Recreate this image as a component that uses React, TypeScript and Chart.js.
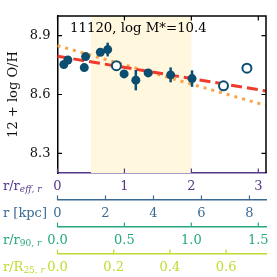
import { useEffect, useRef } from 'react';
import { Chart, registerables } from 'chart.js';
Chart.register(...registerables);

const FONT = '"DejaVu Serif", serif';

// data (radius in units of r_eff,r ; metallicity 12 + log O/H)
const filledX = [0.095, 0.155, 0.4, 0.42, 0.64, 0.75, 0.995, 1.17, 1.355, 1.69, 2.01];
const filledY = [8.753, 8.776, 8.737, 8.793, 8.815, 8.829, 8.705, 8.673, 8.71, 8.7, 8.681];
const filledErr = [0.006, 0.006, 0.006, 0.006, 0.015, 0.035, 0.02, 0.052, 0.006, 0.038, 0.042];
const openX = [0.88, 2.48, 2.83];
const openY = [8.747, 8.644, 8.734];
const redFitX = [0, 3.115];
const redFitY = [8.795, 8.618];
const orangeFitX = [0, 3.115];
const orangeFitY = [8.849, 8.544];
const shadeRange = [0.5, 2.0];

const yTicks = [8.3, 8.6, 8.9];
const reffTicks = [0, 1, 2, 3];
const kpcTicks = [0, 2, 4, 6, 8];
const r90Ticks = [0, 0.5, 1.0, 1.5];
const r25Ticks = [0, 0.2, 0.4, 0.6];
const panelLabel = '11120, log M*=10.4';

const C_PURPLE = '#55378a';
const C_BLUE = '#3b6a93';
const C_GREEN = '#27a882';
const C_YELLOW = '#c2da30';
const C_POINT = '#0c4e70';

type Run = { t: string; sub?: boolean; it?: boolean };
const axisNames: { id: string; color: string; runs: Run[] }[] = [
  { id: 'x', color: C_PURPLE, runs: [{ t: 'r/r' }, { t: 'eff, r', sub: true, it: true }] },
  { id: 'xKpc', color: C_BLUE, runs: [{ t: 'r [kpc]' }] },
  { id: 'xR90', color: C_GREEN, runs: [{ t: 'r/r' }, { t: '90, ', sub: true }, { t: 'r', sub: true, it: true }] },
  { id: 'xR25', color: C_YELLOW, runs: [{ t: 'r/R' }, { t: '25, ', sub: true }, { t: 'r', sub: true, it: true }] },
];

const decor = {
  id: 'decor',
  beforeDatasetsDraw(chart: any) {
    const { ctx, chartArea, scales } = chart;
    const x = scales.x;
    const x0 = x.getPixelForValue(shadeRange[0]);
    const x1 = x.getPixelForValue(shadeRange[1]);
    ctx.save();
    ctx.fillStyle = '#fff7de';
    ctx.fillRect(x0, chartArea.top, x1 - x0, chartArea.bottom - chartArea.top);
    ctx.restore();
  },
  afterDatasetsDraw(chart: any) {
    const { ctx, scales } = chart;
    const x = scales.x, y = scales.y;
    ctx.save();
    ctx.strokeStyle = C_POINT;
    ctx.lineWidth = 2.5;
    filledX.forEach((xv, i) => {
      const px = x.getPixelForValue(xv);
      ctx.beginPath();
      ctx.moveTo(px, y.getPixelForValue(filledY[i] - filledErr[i]));
      ctx.lineTo(px, y.getPixelForValue(filledY[i] + filledErr[i]));
      ctx.stroke();
    });
    ctx.restore();
  },
  afterDraw(chart: any) {
    const { ctx, chartArea, scales } = chart;
    const { left, right, top, bottom } = chartArea;
    ctx.save();
    // frame top & right
    ctx.strokeStyle = '#000';
    ctx.lineWidth = 1.5;
    ctx.beginPath();
    ctx.moveTo(left, top);
    ctx.lineTo(right, top);
    ctx.lineTo(right, bottom);
    ctx.stroke();
    // y ticks inward
    ctx.lineWidth = 1.2;
    scales.y.ticks.forEach((t: any) => {
      const py = scales.y.getPixelForValue(t.value);
      ctx.beginPath();
      ctx.moveTo(left, py);
      ctx.lineTo(left + 4.5, py);
      ctx.moveTo(right, py);
      ctx.lineTo(right - 4.5, py);
      ctx.stroke();
    });
    // top ticks inward
    scales.x.ticks.forEach((t: any) => {
      const px = scales.x.getPixelForValue(t.value);
      ctx.beginPath();
      ctx.moveTo(px, top);
      ctx.lineTo(px, top + 4.5);
      ctx.stroke();
    });
    // bottom axes: upward ticks and names
    axisNames.forEach((a) => {
      const s = scales[a.id];
      ctx.strokeStyle = a.color;
      ctx.lineWidth = 1.2;
      s.ticks.forEach((t: any) => {
        const px = s.getPixelForValue(t.value);
        ctx.beginPath();
        ctx.moveTo(px, s.top);
        ctx.lineTo(px, s.top - 4.5);
        ctx.stroke();
      });
      let cx = 3;
      const cy = s.top + 13.5;
      ctx.fillStyle = a.color;
      ctx.textBaseline = 'middle';
      ctx.textAlign = 'left';
      a.runs.forEach((r) => {
        ctx.font = `${r.it ? 'italic ' : ''}${r.sub ? 9 : 13}px ${FONT}`;
        ctx.fillText(r.t, cx, r.sub ? cy + 3.5 : cy);
        cx += ctx.measureText(r.t).width;
      });
    });
    // panel label
    ctx.fillStyle = '#000';
    ctx.font = `13.3px ${FONT}`;
    ctx.textBaseline = 'middle';
    ctx.textAlign = 'left';
    ctx.fillText(panelLabel, 70, 28.5);
    ctx.restore();
  },
};

function bottomAxis(min: number, max: number, ticks: number[], color: string, weight: number, height: number, fmt: (v: number) => string) {
  return {
    type: 'linear',
    position: 'bottom',
    min,
    max,
    weight,
    afterBuildTicks: (s: any) => {
      s.ticks = ticks.map((v) => ({ value: v }));
    },
    afterFit: (s: any) => {
      s.height = height;
    },
    grid: { display: true, drawOnChartArea: false, drawTicks: false },
    border: { display: true, color, width: 1.5 },
    ticks: {
      color,
      padding: 6,
      maxRotation: 0,
      autoSkip: false,
      includeBounds: false,
      font: { family: FONT, size: 13 },
      callback: (v: any) => fmt(Number(v)),
    },
  };
}

export default function App() {
  const ref = useRef<HTMLCanvasElement>(null);
  useEffect(() => {
    const canvas = ref.current;
    if (!canvas) return;
    const chart = new Chart(canvas, {
      type: 'scatter',
      data: {
        datasets: [
          {
            data: filledX.map((x, i) => ({ x, y: filledY[i] })),
            backgroundColor: C_POINT,
            borderColor: C_POINT,
            pointRadius: 4.5,
            pointBorderWidth: 0,
            order: 0,
          },
          {
            data: openX.map((x, i) => ({ x, y: openY[i] })),
            backgroundColor: '#ffffff',
            borderColor: C_POINT,
            pointRadius: 4.5,
            pointBorderWidth: 2,
            order: 0,
          },
          {
            data: orangeFitX.map((x, i) => ({ x, y: orangeFitY[i] })),
            showLine: true,
            borderColor: '#f9a448',
            borderWidth: 3,
            borderDash: [3, 5],
            pointRadius: 0,
            order: 2,
          },
          {
            data: redFitX.map((x, i) => ({ x, y: redFitY[i] })),
            showLine: true,
            borderColor: '#ef3b2c',
            borderWidth: 3,
            borderDash: [11, 5],
            pointRadius: 0,
            order: 1,
          },
        ],
      } as any,
      options: {
        animation: false,
        responsive: false,
        clip: false as any,
        layout: { padding: { left: 0, right: 11, top: 16, bottom: 0 } },
        plugins: { legend: { display: false }, tooltip: { enabled: false } },
        scales: {
          x: bottomAxis(0, 3.115, reffTicks, C_PURPLE, 0, 27, (v) => String(Math.round(v))),
          xKpc: bottomAxis(0, 8.69, kpcTicks, C_BLUE, 1, 27, (v) => String(Math.round(v))),
          xR90: bottomAxis(0, 1.558, r90Ticks, C_GREEN, 2, 27, (v) => v.toFixed(1)),
          xR25: bottomAxis(0, 0.742, r25Ticks, C_YELLOW, 3, 23, (v) => v.toFixed(1)),
          y: {
            type: 'linear',
            position: 'left',
            min: 8.2,
            max: 9.0,
            afterBuildTicks: (s: any) => {
              s.ticks = yTicks.map((v) => ({ value: v }));
            },
            afterFit: (s: any) => {
              s.width = 57.5;
            },
            grid: { display: true, drawOnChartArea: false, drawTicks: false },
            border: { display: true, color: '#000', width: 1.5 },
            ticks: {
              color: '#111',
              padding: 7,
              font: { family: FONT, size: 13 },
              callback: (v: any) => Number(v).toFixed(1),
            },
            title: {
              display: true,
              text: '12 + log O/H',
              color: '#111',
              font: { family: FONT, size: 13 },
              padding: { top: 5.5, bottom: 0 },
            },
          },
        } as any,
      },
      plugins: [decor],
    });
    return () => chart.destroy();
  }, []);
  return (
    <div style={{ position: 'fixed', left: 0, top: 0, width: 277, height: 277, background: '#fff' }}>
      <canvas ref={ref} width={277} height={277} style={{ display: 'block' }} />
    </div>
  );
}
